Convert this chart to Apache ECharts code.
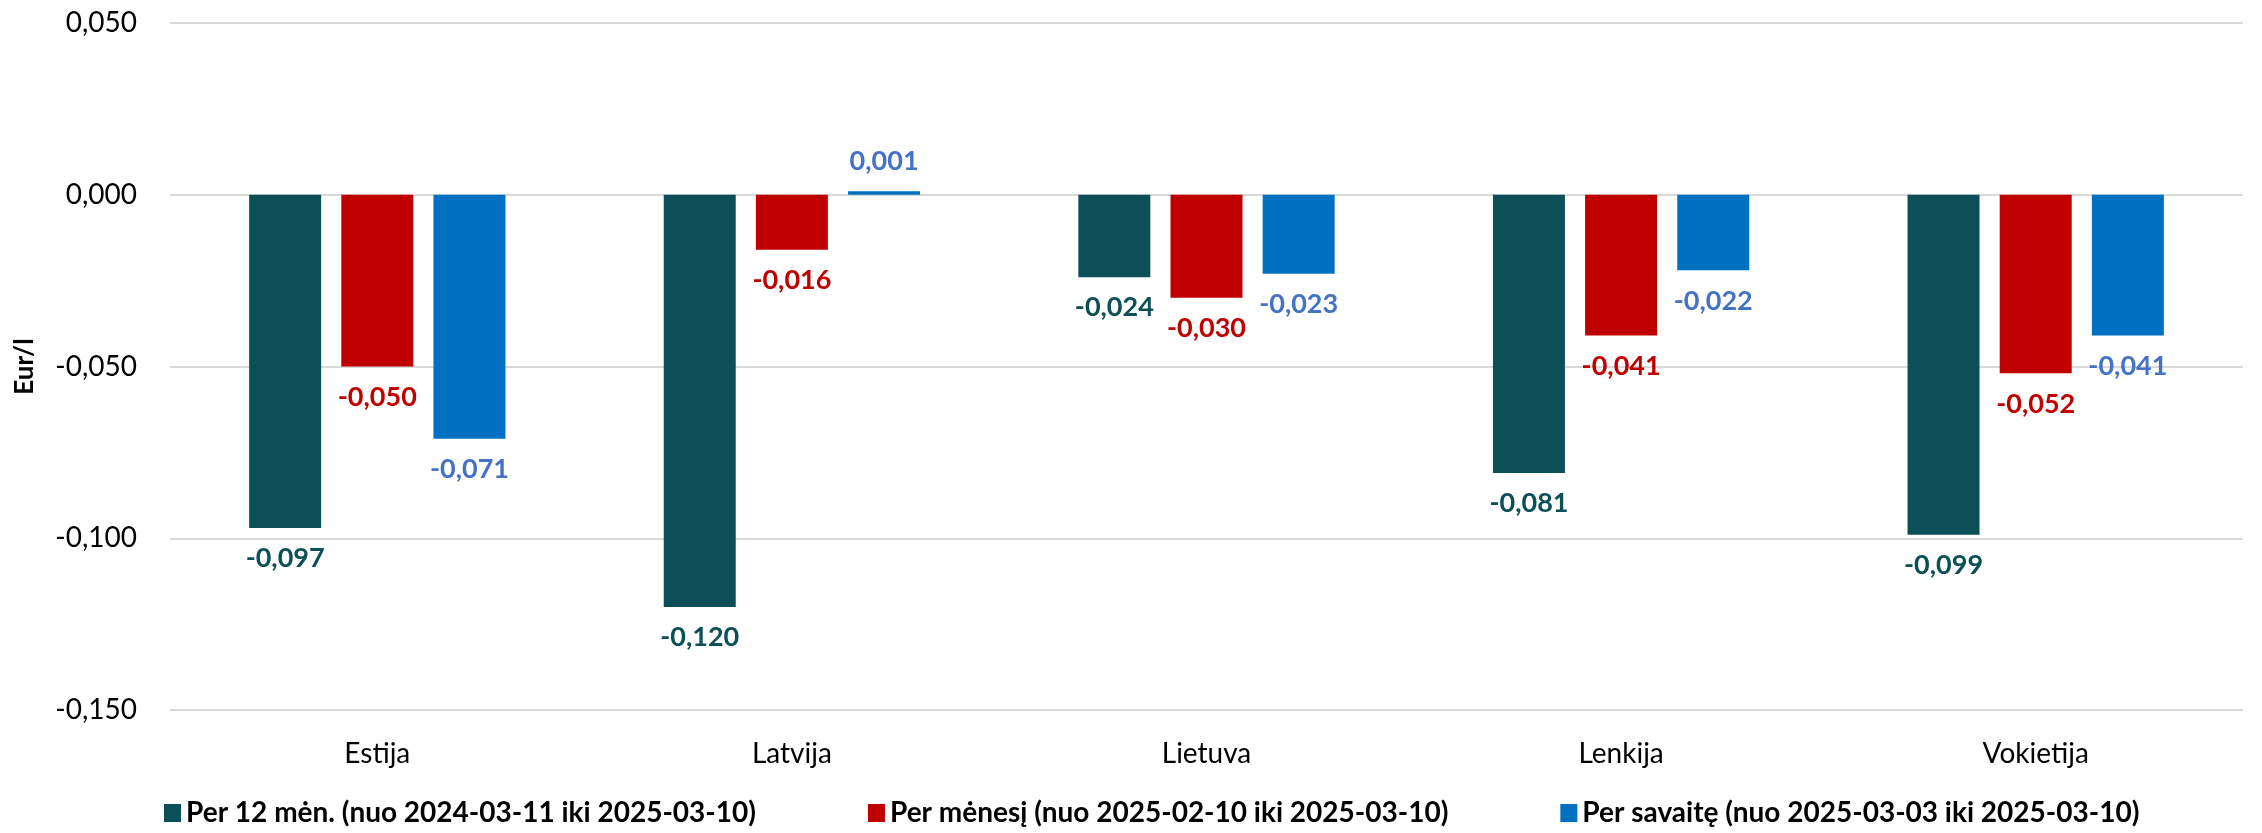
<!DOCTYPE html>
<html>
<head>
<meta charset="utf-8">
<script src="https://cdn.jsdelivr.net/npm/echarts@6/dist/echarts.min.js"></script>
<style>
html,body{margin:0;padding:0;background:#fff;}
#chart{width:2262px;height:833px;}
</style>
</head>
<body>
<div id="chart"></div>
<script>
const categories = ['Estija', 'Latvija', 'Lietuva', 'Lenkija', 'Vokietija'];
const seriesNames = [
  'Per 12 mėn. (nuo 2024-03-11 iki 2025-03-10)',
  'Per mėnesį (nuo 2025-02-10 iki 2025-03-10)',
  'Per savaitę (nuo 2025-03-03 iki 2025-03-10)'
];
const values12m = [-0.097, -0.120, -0.024, -0.081, -0.099];
const valuesMonth = [-0.050, -0.016, -0.030, -0.041, -0.052];
const valuesWeek = [-0.071, 0.001, -0.023, -0.022, -0.041];
const yTicks = { min: -0.15, max: 0.05, interval: 0.05 };

const barColors = ['#0B4F57', '#C00000', '#0070C0'];
const labelColors = ['#0B4F57', '#C00000', '#4472C4'];
const FONT = 'Lato';

function fmt(v) { return v.toFixed(3).replace('.', ','); }

function makeSeries(name, vals, i) {
  return {
    name: name,
    type: 'bar',
    barWidth: 72,
    barGap: '28%',
    itemStyle: { color: barColors[i] },
    data: vals.map(v => ({
      value: v,
      label: { position: v < 0 ? 'bottom' : 'top' }
    })),
    label: {
      show: true,
      distance: 17,
      color: labelColors[i],
      fontFamily: FONT,
      fontWeight: 'bold',
      fontSize: 27,
      formatter: p => fmt(p.value)
    }
  };
}

const chart = echarts.init(document.getElementById('chart'), null, { renderer: 'canvas' });
chart.setOption({
  animation: false,
  backgroundColor: '#fff',
  textStyle: { fontFamily: FONT },
  grid: { left: 170, right: 19, top: 23, bottom: 123, containLabel: false },
  legend: {
    bottom: 1,
    left: 159,
    itemWidth: 17,
    itemHeight: 18,
    itemGap: 112,
    icon: 'rect',
    textStyle: { fontFamily: FONT, fontWeight: 'bold', fontSize: 28, color: '#000' },
    data: seriesNames
  },
  xAxis: {
    type: 'category',
    data: categories,
    position: 'bottom',
    axisLine: { show: false },
    axisTick: { show: false },
    axisLabel: { color: '#000', fontFamily: FONT, fontSize: 28, margin: 30 }
  },
  yAxis: {
    type: 'value',
    min: yTicks.min,
    max: yTicks.max,
    interval: yTicks.interval,
    name: 'Eur/l',
    nameLocation: 'middle',
    nameGap: 132,
    nameRotate: 90,
    nameTextStyle: { fontFamily: FONT, fontWeight: 'bold', fontSize: 26, color: '#000' },
    axisLine: { show: false },
    axisTick: { show: false },
    axisLabel: { color: '#000', fontFamily: FONT, fontSize: 28, margin: 33, formatter: v => fmt(v) },
    splitLine: { lineStyle: { color: '#D9D9D9', width: 2 } }
  },
  series: [
    makeSeries(seriesNames[0], values12m, 0),
    makeSeries(seriesNames[1], valuesMonth, 1),
    makeSeries(seriesNames[2], valuesWeek, 2)
  ]
});
</script>
</body>
</html>
